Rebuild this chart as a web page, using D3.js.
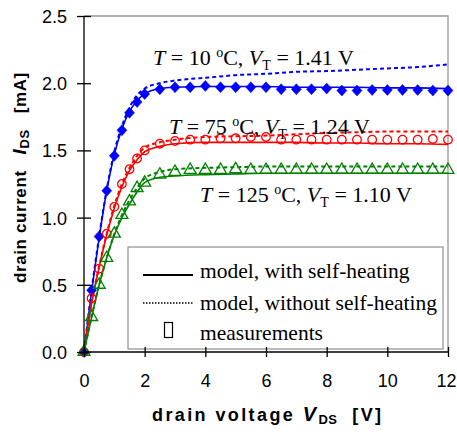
<!DOCTYPE html>
<html><head><meta charset="utf-8">
<script src="https://cdn.jsdelivr.net/npm/d3@7"></script>
<style>
body{margin:0;background:#fff}
svg{display:block}
.axis text{font-family:"Liberation Sans",Arial,sans-serif;font-size:18px;fill:#000}
.axis path,.axis line{stroke:#000;stroke-width:1.3}
.serif{font-family:"Liberation Serif","Times New Roman",serif;fill:#000}
.title{font-family:"Liberation Sans",Arial,sans-serif;font-weight:bold;fill:#000}
</style></head><body><div id="chart"></div>
<script>
// measured drain voltages [V]
const VDS_MEAS = [0,0.25,0.5,0.75,1,1.25,1.5,1.75,2,2.5,3,3.5,4,4.5,5,5.5,6,6.5,7,7.5,8,8.5,9,9.5,10,10.5,11,11.5,12];
// measured drain currents [mA]
const MEAS_10  = [0,0.46,0.86,1.2,1.46,1.65,1.78,1.86,1.92,1.955,1.97,1.97,1.98,1.97,1.97,1.97,1.97,1.955,1.955,1.955,1.96,1.945,1.945,1.95,1.95,1.95,1.95,1.945,1.945];
const MEAS_75  = [0,0.40,0.62,0.88,1.08,1.25,1.36,1.44,1.50,1.55,1.57,1.58,1.58,1.59,1.59,1.60,1.60,1.58,1.58,1.58,1.58,1.58,1.58,1.58,1.58,1.58,1.58,1.585,1.58];
const MEAS_125 = [0,0.26,0.5,0.70,0.88,1.02,1.12,1.22,1.26,1.32,1.34,1.355,1.355,1.355,1.36,1.355,1.355,1.355,1.355,1.355,1.355,1.355,1.355,1.355,1.355,1.355,1.355,1.355,1.355];

// model curves
const VDS_MODEL = [0,0.25,0.5,0.75,1,1.25,1.5,1.75,2,2.5,3,4,5,6,7,8,9,10,11,12];
const SH_10    = [0,0.45,0.85,1.2,1.47,1.66,1.79,1.87,1.92,1.96,1.97,1.975,1.975,1.975,1.97,1.97,1.97,1.965,1.965,1.96];
const NOSH_10  = [0,0.46,0.86,1.21,1.49,1.68,1.82,1.91,1.96,2.0,2.02,2.04,2.06,2.07,2.085,2.09,2.1,2.11,2.12,2.14];
const SH_75    = [0,0.36,0.63,0.87,1.07,1.23,1.35,1.43,1.49,1.53,1.55,1.56,1.56,1.56,1.56,1.555,1.555,1.55,1.55,1.545];
const NOSH_75  = [0,0.37,0.64,0.88,1.09,1.25,1.37,1.46,1.52,1.56,1.58,1.6,1.605,1.61,1.62,1.63,1.635,1.64,1.64,1.64];
const SH_125   = [0,0.26,0.5,0.7,0.87,1.0,1.1,1.19,1.26,1.3,1.31,1.32,1.325,1.33,1.33,1.33,1.33,1.33,1.33,1.33];
const NOSH_125 = [0,0.26,0.5,0.7,0.88,1.02,1.13,1.22,1.29,1.34,1.36,1.37,1.375,1.38,1.38,1.38,1.38,1.38,1.38,1.38];

const X_TICKS = [0,2,4,6,8,10,12];
const Y_TICKS = [0,0.5,1,1.5,2,2.5];

const W = 457, H = 437;
const svg = d3.select("#chart").append("svg").attr("width", W).attr("height", H);

const x = d3.scaleLinear().domain([0, 12]).range([84, 448]);
const y = d3.scaleLinear().domain([0, 2.5]).range([352, 16]);

// grey frame on top / right
svg.append("path").attr("fill", "none").attr("stroke", "#999").attr("stroke-width", 1.3)
   .attr("d", `M${x(0)},${y(2.5)}H${x(12)}V${y(0)}`);

const SERIES = [
  {color: "#0000ff", meas: MEAS_10,  sh: SH_10,  nosh: NOSH_10,  mark: "diamond"},
  {color: "#ff0000", meas: MEAS_75,  sh: SH_75,  nosh: NOSH_75,  mark: "circle"},
  {color: "#008000", meas: MEAS_125, sh: SH_125, nosh: NOSH_125, mark: "triangle"}
];

const line = d3.line().x((d, i) => x(VDS_MODEL[i])).y(d => y(d)).curve(d3.curveMonotoneX);

const plot = svg.append("g");
SERIES.forEach(s => {
  plot.append("path").datum(s.nosh).attr("fill", "none").attr("stroke", s.color)
      .attr("stroke-width", 2).attr("stroke-dasharray", "4,3").attr("d", line);
  plot.append("path").datum(s.sh).attr("fill", "none").attr("stroke", s.color)
      .attr("stroke-width", 1.6).attr("d", line);
});

// markers (diamond drawn a bit squatter than d3's default)
const diamond = "M0,-5.5L5,0L0,5.5L-5,0Z";
const sym = {
  diamond: () => diamond,
  circle: d3.symbol().type(d3.symbolCircle).size(58),
  triangle: d3.symbol().type(d3.symbolTriangle).size(62)
};
SERIES.forEach(s => {
  plot.selectAll(null).data(s.meas).join("path")
      .attr("transform", (d, i) => `translate(${x(VDS_MEAS[i])},${y(d)})`)
      .attr("d", sym[s.mark])
      .attr("fill", s.mark === "diamond" ? s.color : "none")
      .attr("stroke", s.color).attr("stroke-width", s.mark === "diamond" ? 0.5 : 1.3);
});

// legend
const lg = svg.append("g");
lg.append("rect").attr("x", 128).attr("y", 247).attr("width", 315).attr("height", 102)
  .attr("fill", "#fff").attr("stroke", "#999").attr("stroke-width", 1.3);
lg.append("line").attr("x1", 143).attr("x2", 193).attr("y1", 275).attr("y2", 275)
  .attr("stroke", "#000").attr("stroke-width", 2);
lg.append("line").attr("x1", 143).attr("x2", 193).attr("y1", 303).attr("y2", 303)
  .attr("stroke", "#000").attr("stroke-width", 1.5).attr("stroke-dasharray", "1.5,1.5");
lg.append("rect").attr("x", 164.5).attr("y", 322.5).attr("width", 8).attr("height", 15)
  .attr("fill", "none").attr("stroke", "#000").attr("stroke-width", 1.2);
const LEGEND_TEXT = ["model, with self-heating", "model, without self-heating", "measurements"];
const LEGEND_Y = [278, 310, 340];
lg.selectAll(null).data(LEGEND_TEXT).join("text").attr("class", "serif")
  .attr("x", 200).attr("y", (d, i) => LEGEND_Y[i]).attr("font-size", 21.5).text(d => d);

// axes
const ax = svg.append("g").attr("class", "axis").attr("transform", `translate(0,${y(0)})`)
  .call(d3.axisBottom(x).tickValues(X_TICKS).tickSize(5).tickPadding(17).tickFormat(d3.format("d")));
ax.selectAll(".tick line").attr("y1", -5);
ax.select(".domain").attr("d", `M${x(0)},0H${x(12)}`);
ax.selectAll(".tick text").filter(d => d === 12).attr("dx", -2);
const ay = svg.append("g").attr("class", "axis").attr("transform", `translate(${x(0)},0)`)
  .call(d3.axisLeft(y).tickValues(Y_TICKS).tickSize(7).tickPadding(10).tickFormat(d3.format(".1f")));
ay.selectAll(".tick line").attr("x1", 7);
ay.select(".domain").attr("d", `M0,${y(0)}V${y(2.5)}`);
ay.selectAll(".tick text").attr("dy", "0.36em");

// annotations
const ANNOT = [
  {t: "10", vt: "1.41", x: 153, y: 65},
  {t: "75", vt: "1.24", x: 169, y: 134},
  {t: "125", vt: "1.10", x: 200, y: 202}
];
ANNOT.forEach(a => {
  const t = svg.append("text").attr("class", "serif").attr("x", a.x).attr("y", a.y).attr("font-size", 22);
  t.append("tspan").attr("font-style", "italic").text("T");
  t.append("tspan").text(` = ${a.t} `);
  t.append("tspan").attr("font-size", 14).attr("dy", -8).text("o");
  t.append("tspan").attr("dy", 8).text("C, ");
  t.append("tspan").attr("font-style", "italic").text("V");
  t.append("tspan").attr("font-size", 14).attr("dy", 5).text("T");
  t.append("tspan").attr("dy", -5).text(` = ${a.vt} V`);
});

// axis titles
const xt = svg.append("text").attr("class", "title").attr("x", 152).attr("y", 421)
  .attr("font-size", 18).attr("letter-spacing", 2.4);
xt.append("tspan").text("drain voltage ");
xt.append("tspan").attr("font-style", "italic").attr("font-size", 20).text("V");
xt.append("tspan").attr("font-size", 13).attr("dy", 3).attr("letter-spacing", 0.5).text("DS");
xt.append("tspan").attr("dy", -3).attr("xml:space", "preserve").text("  [V]");

const yt = svg.append("text").attr("class", "title")
  .attr("transform", "translate(26,283) rotate(-90)").attr("font-size", 17).attr("letter-spacing", 0.6);
yt.append("tspan").text("drain current   ");
yt.append("tspan").attr("font-style", "italic").attr("font-size", 19).text("I");
yt.append("tspan").attr("font-size", 13).attr("dy", 3).text("DS");
yt.append("tspan").attr("dy", -3).text("   [mA]");
yt.attr("xml:space", "preserve");
</script></body></html>
